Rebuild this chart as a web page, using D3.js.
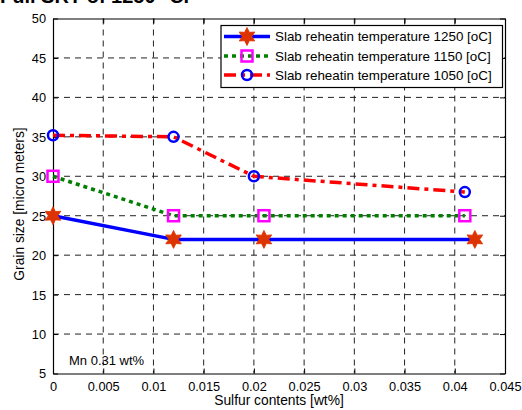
<!DOCTYPE html>
<html><head><meta charset="utf-8">
<script src="https://cdn.jsdelivr.net/npm/d3@7"></script>
<style>body{margin:0;background:#fff}svg{display:block}text{font-family:"Liberation Sans",Arial,sans-serif}</style>
</head><body><svg id="c" width="522" height="410"></svg>
<script>
const xTicks = [0,0.005,0.01,0.015,0.02,0.025,0.03,0.035,0.04,0.045];
const xTickLabels = ["0","0.005","0.01","0.015","0.02","0.025","0.03","0.035","0.04","0.045"];
const yTicks = [5,10,15,20,25,30,35,40,45,50];
const seriesNames = ["Slab reheatin temperature 1250 [oC]","Slab reheatin temperature 1150 [oC]","Slab reheatin temperature 1050 [oC]"];
const x1250 = [0,0.012,0.021,0.042];
const y1250 = [25,22,22,22];
const x1150 = [0,0.012,0.021,0.041];
const y1150 = [30,25,25,25];
const x1050 = [0,0.012,0.020,0.041];
const y1050 = [35.2,35,30,28];

const svg = d3.select("#c");
const L=53,R=505,T=18.5,B=373.5;
const x = d3.scaleLinear().domain([0,0.045]).range([L,R]);
const y = d3.scaleLinear().domain([5,50]).range([B,T]);

// title (partially cut at the top edge, as in the reference)
svg.append("text").attr("x",0).attr("y",2.5).attr("font-family","Liberation Serif").attr("font-weight","bold").attr("font-size",20).text("Full SRT of 1250 °C.");

// grid
const g = svg.append("g");
g.selectAll(".gx").data(xTicks.slice(1,-1)).enter().append("line")
 .attr("x1",d=>x(d)).attr("x2",d=>x(d)).attr("y1",T).attr("y2",B)
 .attr("stroke","#222").attr("stroke-width",1).attr("stroke-dasharray","6,5");
g.selectAll(".gy").data(yTicks.slice(1,-1)).enter().append("line")
 .attr("y1",d=>y(d)).attr("y2",d=>y(d)).attr("x1",L).attr("x2",R)
 .attr("stroke","#222").attr("stroke-width",1).attr("stroke-dasharray","6,5");

// axes
const ax = svg.append("g").attr("transform",`translate(0,${B})`)
 .call(d3.axisBottom(x).tickValues(xTicks).tickFormat((d,i)=>xTickLabels[i]).tickSizeInner(-5).tickSizeOuter(0).tickPadding(8));
const axT = svg.append("g").attr("transform",`translate(0,${T})`)
 .call(d3.axisTop(x).tickValues(xTicks).tickFormat("").tickSizeInner(-5).tickSizeOuter(0));
const ay = svg.append("g").attr("transform",`translate(${L},0)`)
 .call(d3.axisLeft(y).tickValues(yTicks).tickSizeInner(-5).tickSizeOuter(0).tickPadding(7));
const ayR = svg.append("g").attr("transform",`translate(${R},0)`)
 .call(d3.axisRight(y).tickValues(yTicks).tickFormat("").tickSizeInner(-5).tickSizeOuter(0));
[ax,axT,ay,ayR].forEach(a=>{a.select(".domain").attr("stroke","#000").attr("stroke-width",1.2);
 a.selectAll(".tick line").attr("stroke","#000");
 a.selectAll("text").attr("font-size",12.8).attr("fill","#000").attr("font-family","Liberation Sans");});
ay.selectAll(".tick text").attr("dy","0.35em");

// axis labels
svg.append("text").attr("x",(L+R)/2).attr("y",405).attr("text-anchor","middle").attr("font-size",13.8).text("Sulfur contents [wt%]");
svg.append("text").attr("transform",`translate(24,${(T+B)/2+8}) rotate(-90)`).attr("text-anchor","middle").attr("font-size",13.8).text("Grain size [micro meters]");

// lines
const line = d3.line().x(d=>x(d[0])).y(d=>y(d[1]));
const d1250 = x1250.map((v,i)=>[v,y1250[i]]);
const d1150 = x1150.map((v,i)=>[v,y1150[i]]);
const d1050 = x1050.map((v,i)=>[v,y1050[i]]);
const styles = [
 {data:d1250,color:"#0000ff",dash:null,marker:"star"},
 {data:d1150,color:"#007f00",dash:"4,4",marker:"square"},
 {data:d1050,color:"#ff0000",dash:"12,5,4,5",marker:"circle"}
];
function drawMarker(sel,type,cx,cy){
 if(type==="star"){
  const pts=[];const ro=9,ri=4.8;
  for(let k=0;k<12;k++){const a=-Math.PI/2+k*Math.PI/6;const r=k%2?ri:ro;pts.push([cx+r*Math.cos(a),cy+r*Math.sin(a)]);}
  sel.append("path").attr("d","M"+pts.map(p=>p.join(",")).join("L")+"Z").attr("fill","#dd3300").attr("stroke","#dd3300").attr("stroke-width",0.8);
 } else if(type==="square"){
  sel.append("rect").attr("x",cx-5.5).attr("y",cy-5.5).attr("width",11).attr("height",11).attr("fill","none").attr("stroke","#ff00ff").attr("stroke-width",2.5);
 } else {
  sel.append("circle").attr("cx",cx).attr("cy",cy).attr("r",5).attr("fill","none").attr("stroke","#0000ff").attr("stroke-width",2.5);
 }
}
styles.forEach(s=>{
 svg.append("path").attr("d",line(s.data)).attr("fill","none").attr("stroke",s.color).attr("stroke-width",3.5)
  .attr("stroke-dasharray",s.dash).attr("stroke-linejoin","round");
});
styles.forEach(s=>{
 const mg=svg.append("g");
 s.data.forEach(d=>drawMarker(mg,s.marker,x(d[0]),y(d[1])));
});

// annotation
svg.append("text").attr("x",69).attr("y",365).attr("font-size",13).text("Mn 0.31 wt%");

// legend
const lg = svg.append("g");
lg.append("rect").attr("x",221).attr("y",25.5).attr("width",281.5).attr("height",62).attr("fill","#fff").attr("stroke","#000").attr("stroke-width",1.2);
const rowsY=[36.5,56,75];
styles.forEach((s,i)=>{
 lg.append("line").attr("x1",224).attr("x2",270).attr("y1",rowsY[i]).attr("y2",rowsY[i]).attr("stroke",s.color).attr("stroke-width",3.5).attr("stroke-dasharray",s.dash);
 drawMarker(lg,s.marker,247,rowsY[i]);
 lg.append("text").attr("x",275).attr("y",rowsY[i]+4.8).attr("font-size",13.4).text(seriesNames[i]);
});
</script></body></html>
